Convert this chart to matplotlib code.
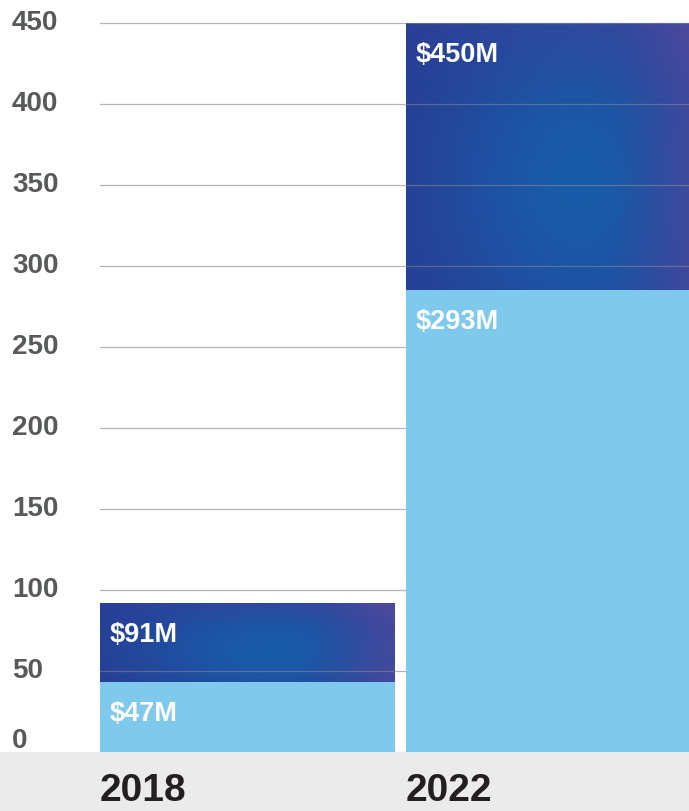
import matplotlib
matplotlib.use("Agg")
import matplotlib.pyplot as plt
import matplotlib.transforms as mtransforms
import numpy as np
from matplotlib.patches import Rectangle

plt.rcParams["font.family"] = ["Liberation Sans", "DejaVu Sans"]
plt.rcParams["font.weight"] = "bold"

# ---- data ----
years = ["2018", "2022"]
light_heights = [43, 285]          # light-blue (bottom) segment top
total_heights = [92, 450]          # dark (top) segment top
light_labels = ["$47M", "$293M"]
total_labels = ["$91M", "$450M"]
y_ticks = [0, 50, 100, 150, 200, 250, 300, 350, 400, 450]

LIGHT_BLUE = "#7fc9ed"
GRID_COLOR = "#7d8590"
TICK_COLOR = "#58595b"
YEAR_COLOR = "#231f20"
BAND_COLOR = "#ebebeb"

BAR_WIDTH = 0.964


def dark_gradient(n=160):
    """Navy edges, soft bright-blue glow in the middle, purple right edge."""
    u = np.linspace(0, 1, n)[None, :]
    v = np.linspace(0, 1, n)[:, None]   # row 0 = bottom when origin='lower'
    navy = np.array([0.16, 0.23, 0.58])
    bright = np.array([0.10, 0.36, 0.66])
    purple = np.array([0.29, 0.29, 0.62])
    glow = np.exp(-((u - 0.58) ** 2 / 0.22 + (v - 0.4) ** 2 / 0.45))
    img = navy * (1 - glow[..., None]) + bright * glow[..., None]
    p = np.clip((u - 0.7) / 0.3, 0, 1) ** 1.2 * 0.85
    p = p + np.clip((v - 0.7) / 0.3, 0, 1) * 0.35 * np.clip(u + 0.3, 0, 1)
    p = np.clip(p, 0, 1)[..., None] * np.ones_like(img[..., :1])
    img = img * (1 - p) + purple * p
    return np.clip(img, 0, 1)


fig = plt.figure(figsize=(6.89, 8.12), dpi=100, facecolor="white")
fig.patches.append(Rectangle((0, 0), 1, 59 / 812, transform=fig.transFigure,
                             facecolor=BAND_COLOR, edgecolor="none", zorder=-1))

ax = fig.add_axes([100 / 689, 59 / 812, 589 / 689, 753 / 812])
ax.set_facecolor("none")
ax.axis("off")

grad = dark_gradient()
x_pos = np.arange(len(years))
for i, x in enumerate(x_pos):
    left = x - BAR_WIDTH / 2
    im = ax.imshow(grad, origin="lower", aspect="auto", interpolation="bicubic",
                   extent=(left, left + BAR_WIDTH, light_heights[i], total_heights[i]),
                   zorder=1)
    clip = Rectangle((left, light_heights[i]), BAR_WIDTH,
                     total_heights[i] - light_heights[i], transform=ax.transData)
    im.set_clip_path(clip)

ax.bar(x_pos, light_heights, width=BAR_WIDTH, color=LIGHT_BLUE, zorder=3,
       linewidth=0)

for t in y_ticks:
    ax.axhline(t, color=GRID_COLOR, alpha=0.6, linewidth=0.9, zorder=2)

ax.set_xlim(-BAR_WIDTH / 2, -BAR_WIDTH / 2 + 589 / 306)
ax.set_ylim(0, 753 / 1.62)

# segment labels, top-left inside each segment
for i, x in enumerate(x_pos):
    left = x - BAR_WIDTH / 2
    for top, lab in ((total_heights[i], total_labels[i]), (light_heights[i], light_labels[i])):
        ax.annotate(lab, xy=(left, top), xytext=(10, -31), textcoords="offset pixels",
                    ha="left", va="center", color="white", fontsize=19.5,
                    fontweight="bold", zorder=5)

# y tick labels on the far left
trans = mtransforms.blended_transform_factory(fig.transFigure, ax.transData)
for t in y_ticks:
    lift = 12 if t == 0 else 1
    off = mtransforms.ScaledTranslation(0, lift / 100, fig.dpi_scale_trans)
    ax.text(12 / 689, t, str(t), transform=trans + off, ha="left", va="center",
            color=TICK_COLOR, fontsize=20, fontweight="bold", clip_on=False)

# year labels in the grey band
for i, x in enumerate(x_pos):
    fig_x = (100 + 306 * i) / 689
    fig.text(fig_x, 21 / 812, years[i], ha="left", va="center", color=YEAR_COLOR,
             fontsize=28, fontweight="bold")

fig.savefig("out.png", dpi=100, facecolor="white")
